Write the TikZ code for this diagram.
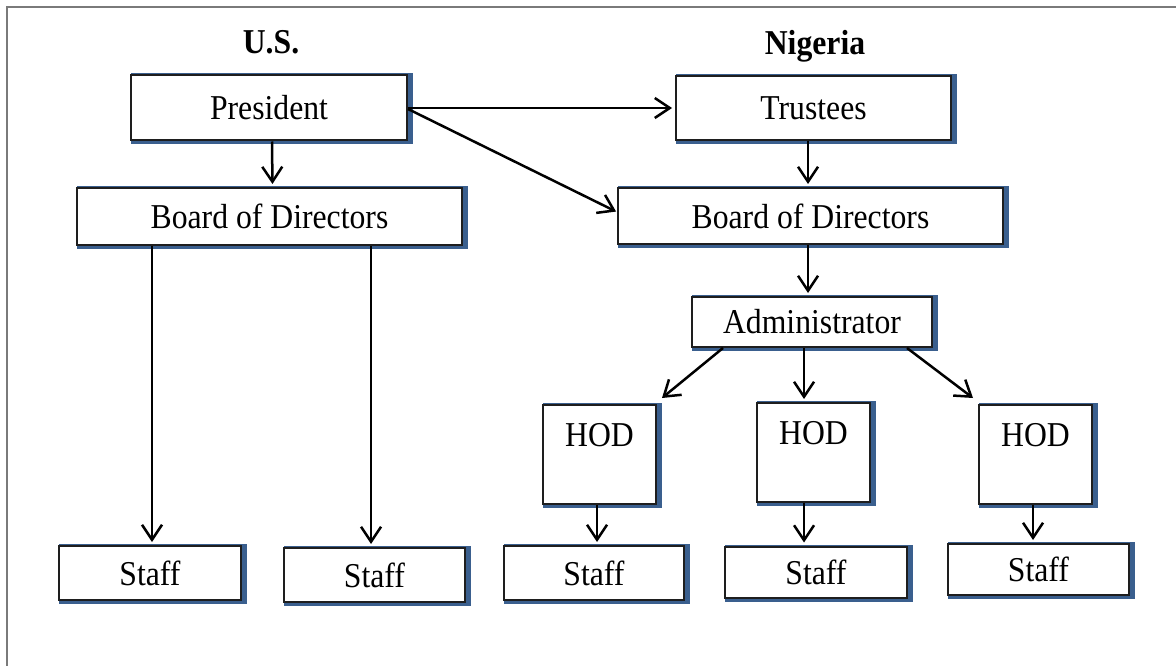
\documentclass[tikz,border=0pt]{standalone}
\usepackage{fontspec}
\usepackage{graphicx}
\setmainfont{Liberation Serif}
\usetikzlibrary{arrows.meta,shadows}
\definecolor{shblue}{HTML}{3A5F8E}
\definecolor{framegray}{HTML}{7A7A7A}
\definecolor{boxline}{HTML}{1E1E1E}
\newcommand\tall[1]{\scalebox{1}[1.1]{#1}}
\tikzset{
  orgbox/.style={draw=boxline, line width=2pt, fill=white, inner sep=0pt,
    font=\fontsize{31.7}{36}\selectfont,
    drop shadow={shadow xshift=3pt, shadow yshift=-1pt, opacity=1,
      fill=shblue, draw=shblue, line width=6pt}},
  hodbox/.style={orgbox, text height=41pt, text depth=58pt, minimum width=113pt},
  arr/.style={line width=2.5pt, -{Straight Barb[length=15pt,width=20pt,line width=2.5pt]},
    shorten >=3pt},
  head/.style={anchor=base, font=\fontsize{31.7}{36}\selectfont\bfseries}
}
\begin{document}
\begin{tikzpicture}[x=1pt,y=-1pt]
\useasboundingbox (0,0) rectangle (1176,666);
\draw[framegray, line width=2pt] (7,666) -- (7,7) -- (1176,7);

\node[head] (us) at (271,54) {\tall{U.S.}};
\node[head] (ng) at (815,55) {\tall{Nigeria}};

\node[orgbox, minimum width=276pt, minimum height=65pt] (pres) at (269,108) {\tall{President}};
\node[orgbox, minimum width=275pt, minimum height=64pt] (trust) at (813.5,108) {\tall{Trustees}};
\node[orgbox, minimum width=385pt, minimum height=57pt] (bl) at (269.5,216.5) {\tall{Board of Directors}};
\node[orgbox, minimum width=385pt, minimum height=56pt] (br) at (810.5,216) {\tall{Board of Directors}};
\node[orgbox, minimum width=240pt, minimum height=50pt] (adm) at (812,322) {\tall{Administrator}};

\node[hodbox, anchor=north] (hod1) at (599.5,404) {\tall{HOD}};
\node[hodbox, anchor=north] (hod2) at (813.5,402) {\tall{HOD}};
\node[hodbox, anchor=north] (hod3) at (1035.5,404) {\tall{HOD}};

\node[orgbox, minimum width=182pt, minimum height=54pt] (s1) at (150,573) {\tall{Staff}};
\node[orgbox, minimum width=181pt, minimum height=54pt] (s2) at (374.5,575) {\tall{Staff}};
\node[orgbox, minimum width=180pt, minimum height=54pt] (s3) at (594,573) {\tall{Staff}};
\node[orgbox, minimum width=182pt, minimum height=51pt] (s4) at (816,572) {\tall{Staff}};
\node[orgbox, minimum width=181pt, minimum height=51pt] (s5) at (1038.5,569.5) {\tall{Staff}};

\draw[arr] ([xshift=3pt]pres.south) -- ([xshift=3pt]bl.north);
\draw[arr] (pres.east) -- (pres.east -| trust.west);
\draw[arr, shorten >=1pt] ([yshift=-1pt]pres.east) -- ([yshift=4pt]br.west);
\draw[arr] ([xshift=-5.5pt]trust.south) -- ([xshift=-2.5pt]br.north);
\draw[arr] ([xshift=-2.5pt]br.south) -- ([xshift=-4pt]adm.north);
\draw[arr, shorten >=0pt] ([xshift=-89pt]adm.south) -- ([xshift=5pt,yshift=6pt]hod1.north east);
\draw[arr] ([xshift=-8pt]adm.south) -- ([xshift=-9.5pt]hod2.north);
\draw[arr, shorten >=0pt] ([xshift=95pt]adm.south) -- ([xshift=-5pt,yshift=6pt]hod3.north west);
\draw[arr] ([xshift=-117.5pt]bl.south) -- ([xshift=2pt]s1.north);
\draw[arr] ([xshift=101.5pt]bl.south) -- ([xshift=-3.5pt]s2.north);
\draw[arr] ([xshift=-2.5pt]hod1.south) -- ([xshift=3pt]s3.north);
\draw[arr] ([xshift=-9.5pt]hod2.south) -- ([xshift=-12pt]s4.north);
\draw[arr] ([xshift=-2.5pt]hod3.south) -- ([xshift=-5.5pt]s5.north);
\end{tikzpicture}
\end{document}
